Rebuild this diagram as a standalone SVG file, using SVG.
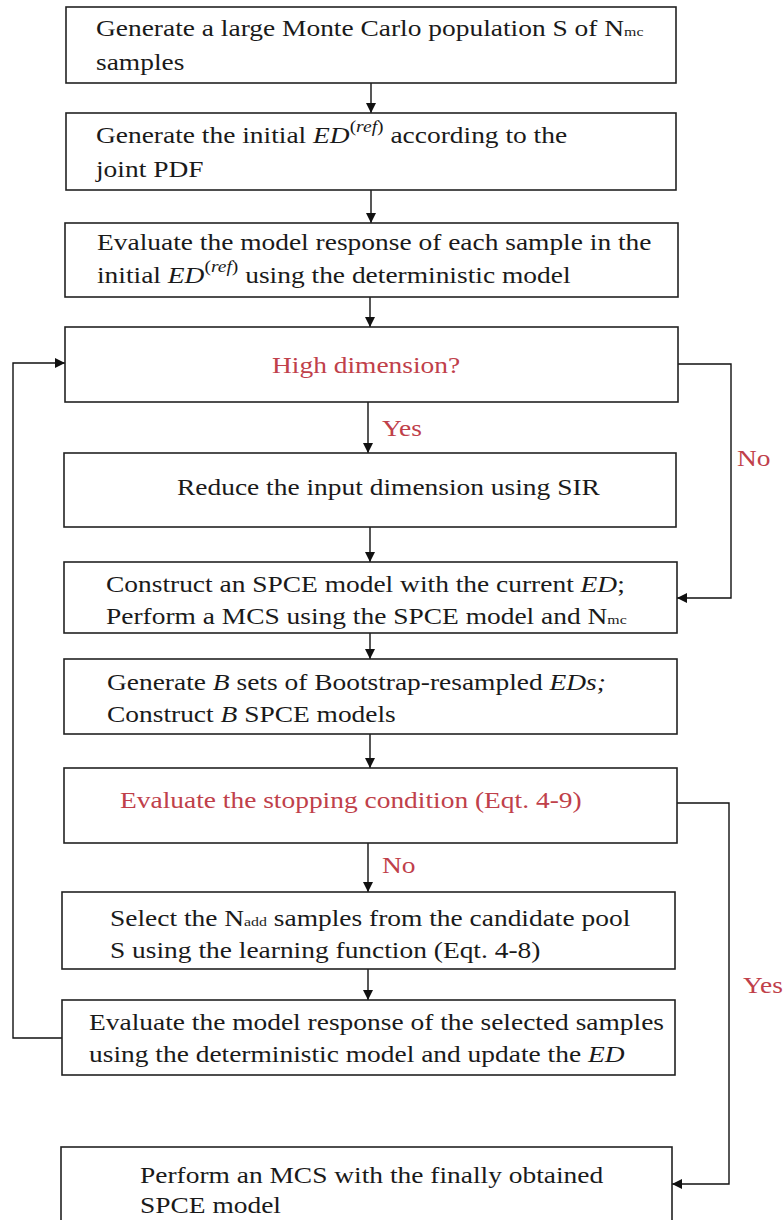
<svg xmlns="http://www.w3.org/2000/svg" width="783" height="1220" viewBox="0 0 783 1220">
<style>
.t{font-family:"Liberation Serif","Times New Roman",serif;font-size:22.5px;fill:#1a1a1a}
.r{fill:#c0404a}
.i{font-style:italic}
.sm{font-size:13px}
.sup{font-size:16px}
.box{fill:#fff;stroke:#222;stroke-width:1.6}
.ln{stroke:#111;stroke-width:1.4;fill:none}
</style>
<defs>
<marker id="ah" viewBox="0 0 10 10" refX="10" refY="5" markerWidth="10" markerHeight="10" markerUnits="userSpaceOnUse" orient="auto">
<path d="M0,0 L10,5 L0,10 z" fill="#111"/>
</marker>
</defs>
<rect width="783" height="1220" fill="#fff"/>

<g id="connectors">
<path class="ln" d="M371,83 V113" marker-end="url(#ah)"/>
<path class="ln" d="M371,190 V223" marker-end="url(#ah)"/>
<path class="ln" d="M370,297 V327" marker-end="url(#ah)"/>
<path class="ln" d="M368,402 V453" marker-end="url(#ah)"/>
<path class="ln" d="M370,527 V562" marker-end="url(#ah)"/>
<path class="ln" d="M370,633 V659" marker-end="url(#ah)"/>
<path class="ln" d="M370,734 V768" marker-end="url(#ah)"/>
<path class="ln" d="M368,843 V892" marker-end="url(#ah)"/>
<path class="ln" d="M368,969 V1000" marker-end="url(#ah)"/>
<path class="ln" d="M62,1038 H13 V363 H65" marker-end="url(#ah)"/>
<path class="ln" d="M678,364 H731 V598 H677" marker-end="url(#ah)"/>
<path class="ln" d="M677,803 H729 V1184 H672" marker-end="url(#ah)"/>
<text class="t r" transform="translate(382,436) scale(1.22,1)">Yes</text>
<text class="t r" transform="translate(737,466) scale(1.22,1)">No</text>
<text class="t r" transform="translate(382,873) scale(1.22,1)">No</text>
<text class="t r" transform="translate(743,993) scale(1.22,1)">Yes</text>
</g>

<g id="n1">
<rect class="box" x="66" y="7" width="610" height="76"/>
<text class="t" transform="translate(96,36) scale(1.22,1)">Generate a large Monte Carlo population S of N<tspan class="sm">mc</tspan></text>
<text class="t" transform="translate(96,70) scale(1.22,1)">samples</text>
</g>

<g id="n2">
<rect class="box" x="66" y="113" width="610" height="77"/>
<text class="t" transform="translate(96,143) scale(1.22,1)">Generate the initial <tspan class="i">ED</tspan><tspan class="sup" dy="-11">(<tspan class="i">ref</tspan>)</tspan><tspan dy="11"> according to the</tspan></text>
<text class="t" transform="translate(96,177) scale(1.22,1)">joint PDF</text>
</g>

<g id="n3">
<rect class="box" x="65" y="223" width="613" height="74"/>
<text class="t" transform="translate(97,250) scale(1.22,1)">Evaluate the model response of each sample in the</text>
<text class="t" transform="translate(97,283) scale(1.22,1)">initial <tspan class="i">ED</tspan><tspan class="sup" dy="-11">(<tspan class="i">ref</tspan>)</tspan><tspan dy="11"> using the deterministic model</tspan></text>
</g>

<g id="n4">
<rect class="box" x="65" y="327" width="613" height="75"/>
<text class="t r" transform="translate(272,373) scale(1.22,1)">High dimension?</text>
</g>

<g id="n5">
<rect class="box" x="64" y="453" width="612" height="74"/>
<text class="t" transform="translate(177,495) scale(1.22,1)">Reduce the input dimension using SIR</text>
</g>

<g id="n6">
<rect class="box" x="64" y="562" width="613" height="71"/>
<text class="t" transform="translate(106,592) scale(1.22,1)">Construct an SPCE model with the current <tspan class="i">ED</tspan>;</text>
<text class="t" transform="translate(106,624) scale(1.22,1)">Perform a MCS using the SPCE model and N<tspan class="sm">mc</tspan></text>
</g>

<g id="n7">
<rect class="box" x="64" y="659" width="613" height="75"/>
<text class="t" transform="translate(107,690) scale(1.22,1)">Generate <tspan class="i">B</tspan> sets of Bootstrap-resampled <tspan class="i">EDs;</tspan></text>
<text class="t" transform="translate(107,722) scale(1.22,1)">Construct <tspan class="i">B</tspan> SPCE models</text>
</g>

<g id="n8">
<rect class="box" x="64" y="768" width="613" height="75"/>
<text class="t r" transform="translate(120,808) scale(1.22,1)">Evaluate the stopping condition (Eqt. 4-9)</text>
</g>

<g id="n9">
<rect class="box" x="62" y="892" width="613" height="77"/>
<text class="t" transform="translate(110,926) scale(1.22,1)">Select the N<tspan class="sm">add</tspan> samples from the candidate pool</text>
<text class="t" transform="translate(110,958) scale(1.22,1)">S using the learning function (Eqt. 4-8)</text>
</g>

<g id="n10">
<rect class="box" x="62" y="1000" width="613" height="75"/>
<text class="t" transform="translate(89,1030) scale(1.22,1)">Evaluate the model response of the selected samples</text>
<text class="t" transform="translate(89,1062) scale(1.22,1)">using the deterministic model and update the <tspan class="i">ED</tspan></text>
</g>

<g id="n11">
<rect class="box" x="61" y="1147" width="611" height="80"/>
<text class="t" transform="translate(140,1183) scale(1.22,1)">Perform an MCS with the finally obtained</text>
<text class="t" transform="translate(140,1213) scale(1.22,1)">SPCE model</text>
</g>
</svg>
